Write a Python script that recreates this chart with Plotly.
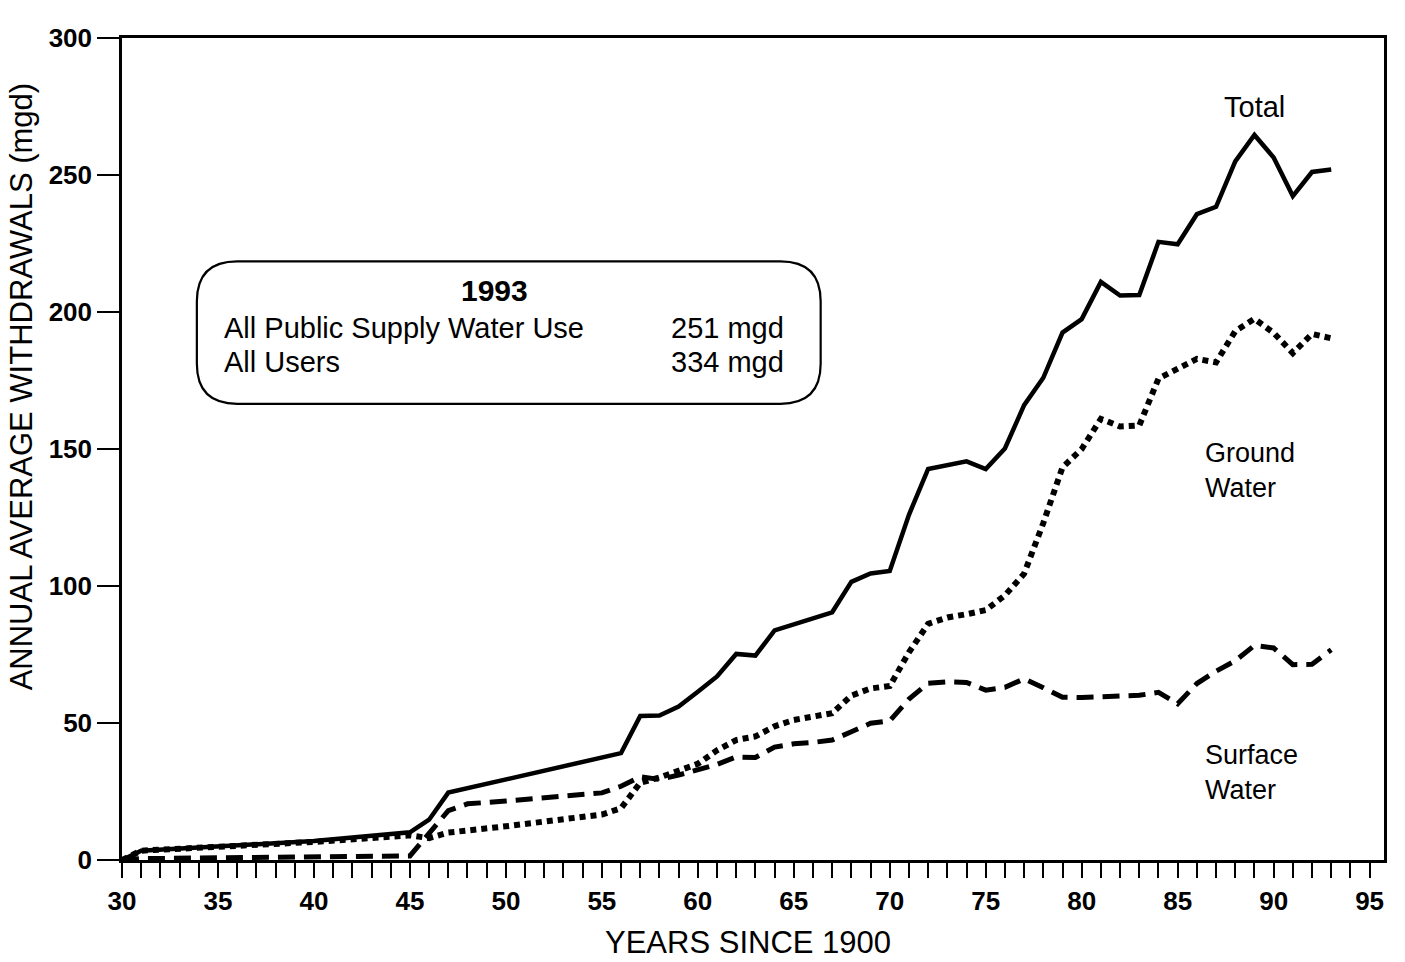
import plotly.graph_objects as go

# ---------------- data ----------------
total_years = [30, 31, 40, 45, 46, 47, 56, 57, 58, 59, 60, 61, 62, 63, 64, 65, 66, 67, 68, 69,
               70, 71, 72, 73, 74, 75, 76, 77, 78, 79, 80, 81, 82, 83, 84, 85, 86, 87, 88, 89,
               90, 91, 92, 93]
total_mgd = [0, 3.4, 6.9, 10.1, 14.7, 24.6, 39.0, 52.6, 52.7, 56.0, 61.4, 67.0, 75.2, 74.6, 83.8,
             86.0, 88.0, 90.4, 101.5, 104.6, 105.5, 126.0, 142.7, 144.0, 145.5, 142.7, 150.2,
             166.0, 176.0, 192.5, 197.4, 211.0, 206.0, 206.2, 225.6, 224.7, 235.7, 238.4, 255.0,
             264.6, 256.4, 242.3, 251.1, 252.0]

ground_years = [30, 31, 40, 45, 46, 47, 50, 55, 56, 57, 58, 59, 60, 61, 62, 63, 64, 65, 66, 67,
                68, 69, 70, 71, 72, 73, 74, 75, 76, 77, 78, 79, 80, 81, 82, 83, 84, 85, 86, 87,
                88, 89, 90, 91, 92, 93]
ground_mgd = [0, 3.4, 6.6, 9.0, 8.0, 10.0, 12.3, 16.6, 18.9, 28.2, 30.1, 32.4, 35.1, 40.0, 43.8,
              45.1, 48.8, 51.1, 52.4, 53.6, 60.0, 62.6, 63.5, 75.8, 86.2, 88.5, 89.7, 91.2, 96.6,
              104.5, 123.0, 143.3, 150.0, 161.0, 158.2, 158.6, 175.7, 179.5, 182.9, 181.6, 193.0,
              197.5, 192.4, 185.0, 192.0, 190.4]

surface_years = [30, 31, 45, 46, 47, 48, 50, 55, 56, 57, 58, 59, 60, 61, 62, 63, 64, 65, 66, 67,
                 68, 69, 70, 71, 72, 73, 74, 75, 76, 77, 78, 79, 80, 81, 82, 83, 84, 85, 86, 87,
                 88, 89, 90, 91, 92, 93]
surface_mgd = [0, 0.5, 1.5, 10.0, 18.0, 20.5, 21.5, 24.5, 26.9, 30.4, 29.4, 31.0, 33.0, 34.9, 37.6,
               37.4, 41.2, 42.4, 42.9, 43.8, 46.8, 49.9, 50.8, 58.7, 64.5, 65.0, 64.8, 62.0, 63.0,
               66.1, 62.9, 59.4, 59.3, 59.5, 59.9, 60.1, 61.2, 57.0, 64.4, 68.9, 72.7, 78.3, 77.4,
               71.3, 71.4, 76.7]

x_tick_vals = list(range(30, 96))
x_tick_text = [str(v) if v % 5 == 0 else "" for v in x_tick_vals]
y_tick_vals = [0, 50, 100, 150, 200, 250, 300]
y_tick_text = ["0", "50", "100", "150", "200", "250", "300"]

box_title = "1993"
box_rows = ["All Public Supply Water Use", "All Users"]
box_values = ["251 mgd", "334 mgd"]

FONT = "Liberation Sans, Arial, sans-serif"

fig = go.Figure()
fig.add_trace(go.Scatter(x=total_years, y=total_mgd, mode="lines", name="Total",
                         line=dict(color="black", width=4.5)))
fig.add_trace(go.Scatter(x=ground_years, y=ground_mgd, mode="lines", name="Ground Water",
                         line=dict(color="black", width=6, dash="6px,5px")))
fig.add_trace(go.Scatter(x=surface_years, y=surface_mgd, mode="lines", name="Surface Water",
                         line=dict(color="black", width=5, dash="17px,9px")))

# rounded box (data coordinates)
x0, x1, y0, y1 = 33.9, 66.4, 166.5, 218.5
rx, ry = 2.1, 14.6
path = (f"M {x0+rx},{y1} L {x1-rx},{y1} Q {x1},{y1} {x1},{y1-ry} "
        f"L {x1},{y0+ry} Q {x1},{y0} {x1-rx},{y0} L {x0+rx},{y0} "
        f"Q {x0},{y0} {x0},{y0+ry} L {x0},{y1-ry} Q {x0},{y1} {x0+rx},{y1} Z")
fig.add_shape(type="path", path=path, xref="x", yref="y",
              line=dict(color="black", width=2.2), fillcolor="rgba(0,0,0,0)")

ann = []
ann.append(dict(x=49.4, y=208.0, xref="x", yref="y", text=f"<b>{box_title}</b>",
                showarrow=False, font=dict(size=30, color="black", family=FONT)))
for row_txt, row_val, yy in zip(box_rows, box_values, [194.0, 181.8]):
    ann.append(dict(x=35.2, y=yy, xref="x", yref="y", text=row_txt, xanchor="left",
                    showarrow=False, font=dict(size=29, color="black", family=FONT)))
    ann.append(dict(x=64.6, y=yy, xref="x", yref="y", text=row_val, xanchor="right",
                    showarrow=False, font=dict(size=29, color="black", family=FONT)))

ann.append(dict(x=89.0, y=275, xref="x", yref="y", text="Total", showarrow=False,
                font=dict(size=29, color="black", family=FONT)))
ann.append(dict(x=86.3, y=142, xref="x", yref="y", text="Ground<br>Water", showarrow=False,
                xanchor="left", align="left",
                font=dict(size=27, color="black", family=FONT)))
ann.append(dict(x=86.3, y=32, xref="x", yref="y", text="Surface<br>Water", showarrow=False,
                xanchor="left", align="left",
                font=dict(size=27, color="black", family=FONT)))

ann.append(dict(x=62.6, y=0, xref="x", yref="paper", yshift=-82, yanchor="middle",
                text="YEARS SINCE 1900", showarrow=False,
                font=dict(size=31, color="black", family=FONT)))
ann.append(dict(x=0, y=0.575, xref="paper", yref="paper", xshift=-101, xanchor="center",
                yanchor="middle", textangle=-90,
                text="ANNUAL AVERAGE WITHDRAWALS (mgd)", showarrow=False,
                font=dict(size=31, color="black", family=FONT)))

fig.update_layout(
    width=1405, height=962,
    margin=dict(l=122, r=21, t=38, b=102),
    paper_bgcolor="white", plot_bgcolor="white",
    showlegend=False,
    annotations=ann,
    xaxis=dict(range=[30, 95.75], tickmode="array", tickvals=x_tick_vals, ticktext=x_tick_text,
               ticks="outside", ticklen=15, tickwidth=2.2, tickcolor="black",
               showline=True, linecolor="black", linewidth=2.5, mirror=True,
               showgrid=False, zeroline=False, ticklabelstandoff=1,
               tickfont=dict(size=26, color="black", family=FONT, weight="bold")),
    yaxis=dict(range=[0, 300], tickmode="array", tickvals=y_tick_vals, ticktext=y_tick_text,
               ticks="outside", ticklen=22, tickwidth=2.2, tickcolor="black",
               showline=True, linecolor="black", linewidth=2.5, mirror=True,
               showgrid=False, zeroline=False,
               tickfont=dict(size=26, color="black", family=FONT, weight="bold")),
)

fig.write_html("out.html", config={"displayModeBar": False},
               post_script="document.body.style.margin='0';")
